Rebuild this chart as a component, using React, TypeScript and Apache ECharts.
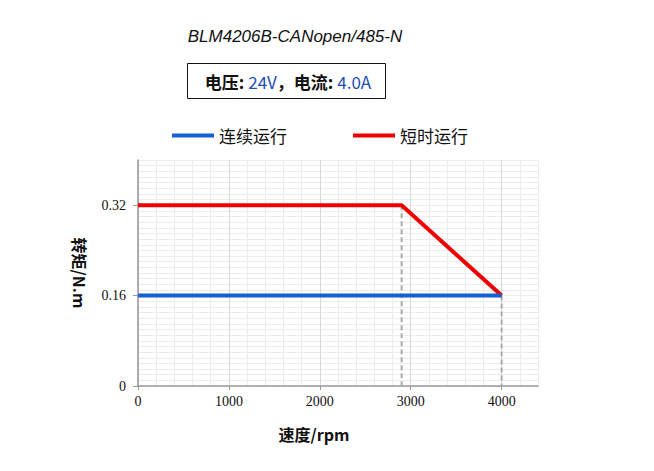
import React, { useEffect, useRef } from "react";
import * as echarts from "echarts";

const title = "BLM4206B-CANopen/485-N";
const seriesNames = ["连续运行", "短时运行"];
const continuousX = [0, 4000];
const continuousY = [0.16, 0.16];
const shortX = [0, 2900, 4000];
const shortY = [0.32, 0.32, 0.16];
const dropX1 = [2900, 2900];
const dropY1 = [0.32, 0];
const dropX2 = [4000, 4000];
const dropY2 = [0.16, 0];
const xTickLabels = [0, 1000, 2000, 3000, 4000];
const yTickLabels = [0, 0.16, 0.32];

const zip = (xs: number[], ys: number[]) => xs.map((x, i) => [x, ys[i]]);

export default function App() {
  const ref = useRef<HTMLDivElement>(null);
  useEffect(() => {
    if (!ref.current) return;
    const chart = echarts.init(ref.current, null, { renderer: "svg" });
    const serif = "Liberation Serif";
    const sans = "Noto Sans CJK SC";
    chart.setOption({
      animation: false,
      backgroundColor: "#ffffff",
      title: {
        text: title,
        left: 290,
        textAlign: "center",
        top: 23,
        textStyle: {
          fontFamily: "Liberation Sans",
          fontStyle: "italic",
          fontWeight: "normal",
          fontSize: 17,
          color: "#111111",
        },
      },
      graphic: [
        {
          type: "rect",
          shape: { x: 187.5, y: 63.5, width: 198, height: 35 },
          style: { fill: "#ffffff", stroke: "#111111", lineWidth: 1 },
        },
        {
          type: "text",
          x: 288,
          y: 81,
          style: {
            text: "{a|电压: }{b|24V}{a|，电流: }{b|4.0A}",
            align: "center",
            verticalAlign: "middle",
            rich: {
              a: { fontFamily: sans, fontSize: 17, fill: "#111111", fontWeight: "bold" },
              b: { fontFamily: sans, fontSize: 17, fill: "#1f4fb5" },
            },
          },
        },
      ],
      legend: {
        left: 167,
        top: 122,
        itemWidth: 42,
        itemHeight: 4,
        itemGap: 66,
        icon: "rect",
        textStyle: { fontFamily: sans, fontSize: 17, color: "#111111" },
        data: seriesNames,
      },
      grid: { left: 138, right: 116, top: 160, bottom: 85 },
      xAxis: [
        {
          type: "value",
          min: 0,
          max: 4400,
          interval: 200,
          axisLine: { show: false },
          axisTick: { show: false },
          axisLabel: { show: false },
          splitLine: {
            show: true,
            lineStyle: { color: ["#d8d8d8", "#ececec", "#ececec", "#ececec", "#ececec"], width: 1 },
          },
        },
        {
          type: "value",
          position: "bottom",
          min: 0,
          max: 4400,
          name: "速度/rpm",
          nameLocation: "middle",
          nameGap: 40,
          nameTextStyle: {
            fontFamily: sans,
            fontSize: 16,
            fontWeight: "bold",
            color: "#111111",
            padding: [0, 48, 0, 0],
          },
          axisLine: { show: true, lineStyle: { color: "#999999", width: 1.5 } },
          axisTick: { show: true, customValues: xTickLabels, length: 4, lineStyle: { color: "#999999" } },
          axisLabel: {
            customValues: xTickLabels,
            fontFamily: serif,
            fontSize: 14,
            color: "#111111",
            margin: 8,
            formatter: (v: number) => String(v),
          },
          splitLine: { show: false },
        },
      ],
      yAxis: [
        {
          type: "value",
          min: 0,
          max: 0.4,
          interval: 0.01,
          axisLine: { show: false },
          axisTick: { show: false },
          axisLabel: { show: false },
          splitLine: { show: true, lineStyle: { color: "#ececec", width: 1 } },
        },
        {
          type: "value",
          position: "left",
          min: 0,
          max: 0.4,
          name: "转矩/N.m",
          nameLocation: "middle",
          nameRotate: -90,
          nameGap: 50,
          nameTextStyle: { fontFamily: sans, fontSize: 16, fontWeight: "bold", color: "#111111" },
          axisLine: { show: true, lineStyle: { color: "#999999", width: 1.5 } },
          axisTick: { show: true, customValues: yTickLabels, length: 5, lineStyle: { color: "#999999" } },
          axisLabel: {
            customValues: yTickLabels,
            fontFamily: serif,
            fontSize: 14,
            color: "#111111",
            margin: 12,
            formatter: (v: number) => (v === 0 ? "0" : v.toFixed(2)),
          },
          splitLine: { show: false },
        },
      ],
      series: [
        {
          name: "drop1",
          type: "line",
          xAxisIndex: 1,
          yAxisIndex: 1,
          data: zip(dropX1, dropY1),
          symbol: "none",
          lineStyle: { color: "#aaaaaa", width: 2, type: [5, 3] },
          z: 1,
        },
        {
          name: "drop2",
          type: "line",
          xAxisIndex: 1,
          yAxisIndex: 1,
          data: zip(dropX2, dropY2),
          symbol: "none",
          lineStyle: { color: "#aaaaaa", width: 2, type: [5, 3] },
          z: 1,
        },
        {
          name: seriesNames[0],
          type: "line",
          xAxisIndex: 1,
          yAxisIndex: 1,
          data: zip(continuousX, continuousY),
          symbol: "none",
          itemStyle: { color: "#1560d4" },
          lineStyle: { color: "#1560d4", width: 4 },
          z: 3,
        },
        {
          name: seriesNames[1],
          type: "line",
          xAxisIndex: 1,
          yAxisIndex: 1,
          data: zip(shortX, shortY),
          symbol: "none",
          itemStyle: { color: "#ee0000" },
          lineStyle: { color: "#ee0000", width: 4 },
          z: 2,
        },
      ],
    });
    return () => chart.dispose();
  }, []);
  return <div ref={ref} style={{ width: 654, height: 471, position: "absolute", left: 0, top: 0 }} />;
}
